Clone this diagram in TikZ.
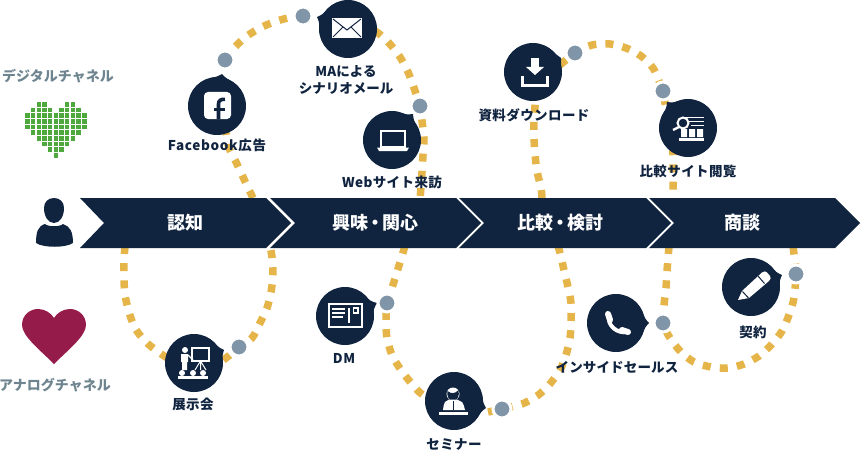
\documentclass[tikz,border=0pt]{standalone}
\usepackage{fontspec}
\setmainfont{Noto Sans CJK JP}
\usetikzlibrary{calc}
\definecolor{navy}{HTML}{10233F}
\definecolor{trailc}{HTML}{E5B54A}
\definecolor{dotc}{HTML}{8096A8}
\definecolor{chan}{HTML}{6E8590}
\definecolor{pixgreen}{HTML}{4FA83D}
\definecolor{maroon}{HTML}{951B4A}
\tikzset{
  trail/.style={draw=trailc,line width=7.5pt,dash pattern=on 8pt off 9.2pt},
  bub/.style={circle,fill=navy,minimum size=58pt,inner sep=0pt,outer sep=0pt},
  dotn/.style={circle,fill=dotc,draw=white,line width=3pt,minimum size=18pt,inner sep=0pt,outer sep=0pt},
  lab/.style={text=navy,font=\fontsize{13.5}{17}\selectfont\bfseries,inner sep=0pt,align=center},
  chanlab/.style={text=chan,font=\fontsize{14}{16}\selectfont\bfseries,inner sep=0pt},
  bandlab/.style={text=white,font=\fontsize{18}{20}\selectfont\bfseries,inner sep=0pt},
  wl/.style={draw=white,line width=1.4pt},
  nl/.style={draw=navy,line width=1pt},
}
\newcommand\bubble[5]{%
  \node[bub] (#1) at (#2,#3) {};
  \pgfmathsetmacro\bubang{atan2(#5-#3,#4-#2)}
  \fill[navy] (#4,#5) .. controls ($(#1.center)+(\bubang+8:29.5)$) .. ($(#1.center)+(\bubang+25:28.5)$)
    -- ($(#1.center)+(\bubang-25:28.5)$) .. controls ($(#1.center)+(\bubang-8:29.5)$) .. (#4,#5) -- cycle;
}
\begin{document}
\begin{tikzpicture}[x=1pt,y=-1pt]
\useasboundingbox (0,0) rectangle (860,452);
% dot positions
\coordinate (dFB) at (225,60);
\coordinate (dMA) at (303,16);
\coordinate (dWeb) at (420,106);
\coordinate (dDL) at (575,53);
\coordinate (dCmp) at (663,91);
\coordinate (dCon) at (796,274);
\coordinate (dTel) at (663,323);
\coordinate (dSem) at (502,409);
\coordinate (dDM) at (387,303);
\coordinate (dExp) at (239,347);
% trails
\draw[trail] plot[smooth] coordinates {(125,246)(124,261)(124,279)(125,295)(129,312)(135,328)(145,341)(157,351)(175,362)(205,370)(226,358)(dExp)(252,338)(260,323)(267,308)(271,292)(273,275)(272,257)(270,246)};
\draw[trail] plot[smooth] coordinates {(253,198)(243,177)(236,162)(229,148)(226,133)(222,100)};
\draw[trail] plot[smooth] coordinates {(dFB)(235,47)(247,36)(262,27)(277,21)(292,17)(dMA)};
\draw[trail] plot[smooth] coordinates {(360,22)(378,33)(389,43)(400,57)(408,72)(414,88)(dWeb)(422,121)(424,138)(423,155)(422,172)(420,200)};
\draw[trail] plot[smooth] coordinates {(405,246)(397,272)(392,288)(dDM)(386,322)(387,338)(392,355)(401,370)(412,384)(423,395)(445,405)};
\draw[trail] plot[smooth] coordinates {(488,412)(dSem)(522,404)(537,396)(549,385)(560,370)(566,355)(570,338)(571,321)(571,303)(568,287)(564,270)(560,253)(558,246)};
\draw[trail] plot[smooth] coordinates {(542,198)(541,188)(537,171)(535,154)(534,137)(534,120)(536,95)};
\draw[trail] plot[smooth] coordinates {(560,65)(dDL)(592,45)(610,44)(626,48)(641,56)(653,68)(659,81)(dCmp)(665,103)(672,130)(673,155)(673,170)(673,186)(673,200)};
\draw[trail] plot[smooth] coordinates {(669,246)(667,271)(666,288)(664,305)(dTel)(670,338)(681,352)(694,362)(711,367)(728,368)(744,364)(759,356)(772,344)(782,331)(789,315)(794,298)(dCon)(795,262)(793,246)};
% band
\fill[navy] (80,198) -- (266,198) -- (291,223) -- (266,248) -- (80,248) -- (104,223) -- cycle;
\fill[navy] (270,198) -- (456,198) -- (481,223) -- (456,248) -- (270,248) -- (295,223) -- cycle;
\fill[navy] (459,198) -- (646,198) -- (671,223) -- (646,248) -- (459,248) -- (484,223) -- cycle;
\fill[navy] (649,198) -- (835,198) -- (860,223) -- (835,248) -- (649,248) -- (674,223) -- cycle;
\node[bandlab] (b1) at (185,223) {認知};
\node[bandlab] (b2) at (375,223) {興味\hspace{-2pt}・\hspace{-2pt}関心};
\node[bandlab] (b3) at (560,223) {比較\hspace{-2pt}・\hspace{-2pt}検討};
\node[bandlab] (b4) at (742,223) {商談};
% bubbles
\bubble{fb}{217}{106}{222}{74}
\bubble{ma}{348}{29}{317}{17}
\bubble{web}{392}{140}{413}{114}
\bubble{dl}{533}{72}{561}{58}
\bubble{cmp}{688}{128}{667}{102}
\bubble{con}{751}{287}{782}{275}
\bubble{tel}{616}{323}{649}{323}
\bubble{sem}{454}{401}{486}{408}
\bubble{dm}{345}{316}{377}{303}
\bubble{exp}{194}{363}{224}{350}
% dots
\foreach \d in {dFB,dMA,dWeb,dDL,dCmp,dCon,dTel,dSem,dDM,dExp}{\node[dotn] at (\d) {};}
% labels
\node[lab] (lfb) at (217,145) {\addfontfeature{LetterSpace=5}Facebook広告};
\node[lab] (lma) at (346,79.5) {\addfontfeature{LetterSpace=1}MAによる\\シナリオメール};
\node[lab] (lweb) at (392,182) {\addfontfeature{LetterSpace=3}Webサイト来訪};
\node[lab] (ldl) at (534,115) {\addfontfeature{LetterSpace=3}資料ダウンロード};
\node[lab] (lcmp) at (688,171) {\addfontfeature{LetterSpace=3}比較サイト閲覧};
\node[lab] (lcon) at (753,332) {\addfontfeature{LetterSpace=3}契約};
\node[lab] (ltel) at (617,367) {\addfontfeature{LetterSpace=1}インサイドセールス};
\node[lab] (lsem) at (454,445) {\addfontfeature{LetterSpace=3}セミナー};
\node[lab] (ldm) at (344,358) {\addfontfeature{LetterSpace=4}DM};
\node[lab] (lexp) at (193,404) {\addfontfeature{LetterSpace=3}展示会};
\node[chanlab] (cd) at (58,76) {デジタルチャネル};
\node[chanlab] (ca) at (55,385) {アナログチャネル};
% pixel heart
\foreach \r/\cs in {0/{2,3,7,8},1/{1,2,3,4,6,7,8,9},2/{0,1,2,3,4,5,6,7,8,9,10},3/{0,1,2,3,4,5,6,7,8,9,10},4/{0,1,2,3,4,5,6,7,8,9,10},5/{1,2,3,4,5,6,7,8,9},6/{2,3,4,5,6,7,8},7/{3,4,5,6,7},8/{4,5,6},9/{5}}{
  \foreach \c in \cs {
    \fill[pixgreen] ({25.2+\c*5.67},{102+\r*5.67}) rectangle ++(4.6,4.6);
  }
}
% maroon heart
\fill[maroon] (54,364) .. controls (40,350) and (22,336) .. (22,325) .. controls (22,315) and (30,309) .. (38,309) .. controls (45,309) and (51,313) .. (54,318) .. controls (57,313) and (63,309) .. (70,309) .. controls (78,309) and (86,315) .. (86,325) .. controls (86,336) and (68,350) .. (54,364) -- cycle;
% person
\fill[navy] (54,198) .. controls (60,198) and (64,202) .. (64,208) .. controls (64,216) and (60,223) .. (54,223) .. controls (48,223) and (44,216) .. (44,208) .. controls (44,202) and (48,198) .. (54,198) -- cycle;
\fill[navy] (45,224) .. controls (48,227) and (60,227) .. (63,224) .. controls (70,226) and (73,232) .. (73,243) .. controls (66,248) and (43,248) .. (36,243) .. controls (36,232) and (38,226) .. (45,224) -- cycle;
% icon: facebook
\fill[white,rounded corners=4pt] (204,92) rectangle (231,119);
\draw[navy,line width=3.6pt] (218.5,119) -- (218.5,104) .. controls (218.5,100.5) and (221,99) .. (225,99.3);
\draw[navy,line width=3.2pt] (214,109.5) -- (225,109.5);
% icon: mail
\fill[white] (332,18) rectangle (362,38);
\draw[nl] (333,19) -- (347,30) -- (361,19);
\draw[nl] (333,37) -- (343,27);
\draw[nl] (361,37) -- (351,27);
% icon: laptop
\draw[wl] (381,131) rectangle (405,147);
\fill[white] (377,147.5) -- (409,147.5) -- (407,151) -- (379,151) -- cycle;
% icon: download
\fill[white] (531,58) rectangle (539,67);
\fill[white] (526,67) -- (544,67) -- (535,75) -- cycle;
\draw[draw=white,line width=3pt] (522.5,76) -- (522.5,85.5) -- (547.5,85.5) -- (547.5,76);
% icon: compare
\draw[draw=white,line width=1pt] (685,117) -- (704,117) (689,121) -- (704,121) (691,125) -- (704,125);
\fill[white] (681,129) rectangle (687,137) (689,129) rectangle (695,137) (697,129) rectangle (703,137);
\fill[white] (679,138) rectangle (704,140.5);
\draw[draw=white,line width=2pt] (683,123) circle[radius=5.5];
\draw[draw=white,line width=2.4pt] (679,127) -- (673,130);
\fill[white] (682,128.5) rectangle (684.5,137);
% icon: expo
\draw[draw=white,line width=1.2pt] (192,348) rectangle (209,361);
\draw[draw=white,line width=1pt] (200.5,361) -- (195,370) (200.5,361) -- (200.5,370) (200.5,361) -- (206,370);
\fill[white] (185,350) circle[radius=3];
\fill[white] (181,354) rectangle (188,362) (182,362) rectangle (187,370);
\draw[draw=white,line width=1.2pt] (188,355) -- (193,360);
\fill[white] (182,373) circle[radius=3] (193,373) circle[radius=3] (203,373) circle[radius=3];
\fill[white] (178,376) rectangle (208,378.5);
% icon: seminar
\fill[white] (453,394) circle[radius=6.5];
\fill[navy] (447.5,391) .. controls (451,394) and (455,394) .. (458.5,390) .. controls (460,396) and (457,401) .. (453,401) .. controls (449,401) and (446.5,396) .. (447.5,391) -- cycle;
\fill[white] (449,399.5) -- (457,399.5) -- (462,402) .. controls (464,404) and (464,407) .. (465,410) -- (443,410) .. controls (443,407) and (444,404) .. (445,402) -- cycle;
\draw[nl,line width=.8pt] (453,401) -- (453,410);
\fill[white] (439,411.5) rectangle (468,415);
% icon: phone
\draw[draw=white,line width=4pt] (609,316) .. controls (607,325) and (617,334) .. (627,332);
\draw[draw=white,line width=6pt,line cap=round] (608,314) -- (610,320);
\draw[draw=white,line width=6pt,line cap=round] (622,330) -- (628,332);
% icon: pencil
\fill[white] (738,300) -- (742,291) -- (762,272.5) .. controls (764,271) and (766,271) .. (767,272.5) -- (770,276) .. controls (771,278) and (771,279) .. (769,281) -- (749,298) -- cycle;
\draw[nl] (742.5,291.5) -- (748.5,298);
\draw[nl] (758,276) -- (764.5,283.5);
% icon: DM
\draw[draw=white,line width=1.3pt] (329,304) rectangle (362,327);
\draw[draw=white,line width=1.2pt] (349,308) -- (349,323);
\draw[draw=white,line width=1.3pt] (353.5,308) rectangle (358,313);
\draw[draw=white,line width=1.3pt] (332,309) -- (345,309) (332,313) -- (345,313) (332,317) -- (343,317);
\end{tikzpicture}
\end{document}
